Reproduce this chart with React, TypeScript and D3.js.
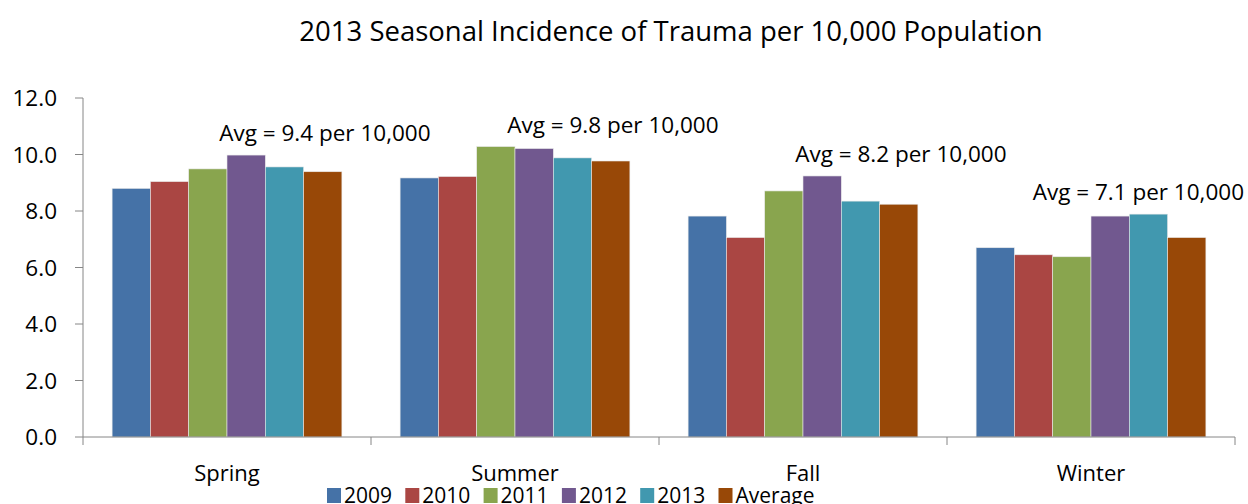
import React, { useEffect, useRef } from 'react';
import * as d3 from 'd3';

const seasons = ['Spring', 'Summer', 'Fall', 'Winter'];
const seriesNames = ['2009', '2010', '2011', '2012', '2013', 'Average'];
const seriesColors = ['#4572A7', '#AA4643', '#89A54E', '#71588F', '#4198AF', '#984807'];

// values per season, in series order
const spring = [8.8, 9.04, 9.49, 9.98, 9.56, 9.39];
const summer = [9.17, 9.22, 10.28, 10.21, 9.88, 9.77];
const fall = [7.82, 7.06, 8.71, 9.24, 8.35, 8.24];
const winter = [6.7, 6.45, 6.38, 7.82, 7.89, 7.06];
const seasonValues = [spring, summer, fall, winter];

const avgLabels = ['Avg = 9.4 per 10,000', 'Avg = 9.8 per 10,000', 'Avg = 8.2 per 10,000', 'Avg = 7.1 per 10,000'];
const yTicks = [0, 2, 4, 6, 8, 10, 12];

const W = 1248;
const H = 504;
const FONT = '"Open Sans", sans-serif';

const App: React.FC = () => {
  const svgRef = useRef<SVGSVGElement>(null);

  useEffect(() => {
    if (!svgRef.current) return;
    const svg = d3.select(svgRef.current);
    svg.selectAll('*').remove();

    const left = 83;
    const right = 1235;
    const top = 98;
    const bottom = 437;

    const x = d3.scaleBand<string>().domain(seasons).range([left, right]).padding(0);
    const inner = d3.scaleBand<string>()
      .domain(seriesNames)
      .range([0, x.bandwidth()])
      .paddingOuter(0.76)
      .paddingInner(0);
    const y = d3.scaleLinear().domain([0, 12]).range([bottom, top]);

    // title
    svg.append('text')
      .attr('x', 671)
      .attr('y', 41)
      .attr('text-anchor', 'middle')
      .attr('font-family', FONT)
      .attr('font-size', 27.5)
      .attr('fill', '#000')
      .text('2013 Seasonal Incidence of Trauma per 10,000 Population');

    // bars
    seasons.forEach((s, i) => {
      const g = svg.append('g').attr('transform', `translate(${x(s)},0)`);
      g.selectAll('rect')
        .data(seasonValues[i])
        .join('rect')
        .attr('x', (_, j) => inner(seriesNames[j]) as number)
        .attr('y', d => y(d))
        .attr('width', inner.bandwidth())
        .attr('height', d => y(0) - y(d))
        .attr('fill', (_, j) => seriesColors[j])
        .attr('stroke', '#e8e8e8')
        .attr('stroke-width', 0.6);
    });

    // y axis
    const axisColor = '#868686';
    svg.append('line')
      .attr('x1', left).attr('x2', left)
      .attr('y1', y(12)).attr('y2', bottom)
      .attr('stroke', axisColor).attr('stroke-width', 1);
    yTicks.forEach(t => {
      svg.append('line')
        .attr('x1', left - 8).attr('x2', left)
        .attr('y1', y(t)).attr('y2', y(t))
        .attr('stroke', axisColor).attr('stroke-width', 1);
      svg.append('text')
        .attr('x', 57)
        .attr('y', y(t))
        .attr('dy', '0.36em')
        .attr('text-anchor', 'end')
        .attr('font-family', FONT)
        .attr('font-size', 22.5)
        .attr('fill', '#000')
        .text(d3.format('.1f')(t));
    });

    // x axis
    svg.append('line')
      .attr('x1', left).attr('x2', right)
      .attr('y1', bottom).attr('y2', bottom)
      .attr('stroke', axisColor).attr('stroke-width', 1);
    [...seasons.map(s => x(s) as number), right].forEach(px => {
      svg.append('line')
        .attr('x1', px).attr('x2', px)
        .attr('y1', bottom).attr('y2', bottom + 8)
        .attr('stroke', axisColor).attr('stroke-width', 1);
    });
    seasons.forEach(s => {
      svg.append('text')
        .attr('x', (x(s) as number) + x.bandwidth() / 2)
        .attr('y', 481)
        .attr('text-anchor', 'middle')
        .attr('font-family', FONT)
        .attr('font-size', 22)
        .attr('fill', '#000')
        .text(s);
    });

    // average annotations
    seasons.forEach((s, i) => {
      const cx = (x(s) as number) + x.bandwidth() * 0.84;
      const yy = y(d3.max(seasonValues[i]) as number) - 14;
      const t = svg.append('text')
        .attr('x', cx)
        .attr('y', yy)
        .attr('text-anchor', 'middle')
        .attr('font-family', FONT)
        .attr('font-size', 22.5)
        .attr('fill', '#000')
        .text(avgLabels[i]);
      const len = (t.node() as SVGTextElement).getComputedTextLength();
      if (cx + len / 2 > W - 4) {
        t.attr('text-anchor', 'end').attr('x', W - 4);
      }
    });

    // legend
    const legend = svg.append('g').attr('transform', 'translate(327,0)');
    seriesNames.forEach((n, i) => {
      const gx = i * 78.3;
      legend.append('rect')
        .attr('x', gx).attr('y', 488)
        .attr('width', 14).attr('height', 15)
        .attr('fill', seriesColors[i]);
      legend.append('text')
        .attr('x', gx + 17)
        .attr('y', 503)
        .attr('font-family', FONT)
        .attr('font-size', 21)
        .attr('fill', '#000')
        .text(n);
    });
  }, []);

  return (
    <div style={{ position: 'absolute', left: 0, top: 0 }}>
      <svg ref={svgRef} width={W} height={H} style={{ display: 'block', background: '#fff' }} />
    </div>
  );
};

export default App;
